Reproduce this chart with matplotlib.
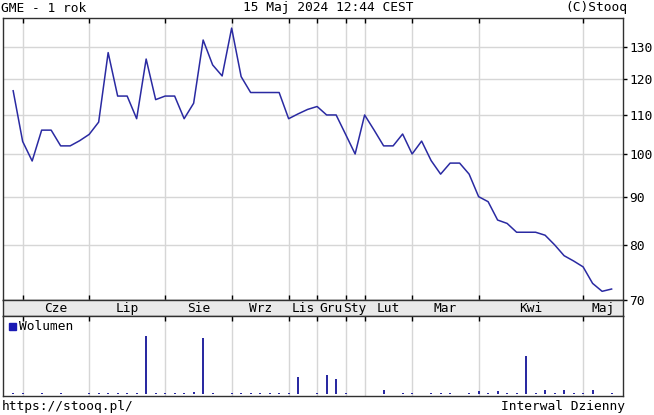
import matplotlib
matplotlib.use('Agg')
import matplotlib.pyplot as plt
from matplotlib.ticker import FixedLocator, NullLocator, FuncFormatter
from matplotlib.patches import Rectangle

# ---- data ----
prices = [116.7, 103.1, 98.3, 106.0, 106.0, 102.0, 102.0, 103.3, 104.9, 108.1,
          128.1, 115.2, 115.2, 109.0, 126.1, 114.2, 115.2, 115.2, 109.0, 113.2,
          132.1, 124.3, 121.0, 136.0, 120.8, 116.2, 116.2, 116.2, 116.2, 109.0,
          110.3, 111.5, 112.3, 110.0, 110.0, 104.9, 100.0, 110.0, 106.0, 102.0,
          102.0, 105.0, 100.0, 103.2, 98.4, 95.2, 97.8, 97.8, 95.2, 90.1,
          89.0, 85.1, 84.4, 82.6, 82.6, 82.6, 82.0, 80.1, 78.0, 77.0,
          75.9, 72.9, 71.5, 71.9]
volumes = [10, 10, 0, 10, 0, 10, 0, 0, 10, 10,
           10, 10, 10, 10, 576, 10, 10, 10, 10, 20,
           557, 10, 0, 15, 10, 10, 10, 10, 10, 15,
           170, 0, 10, 190, 150, 10, 0, 0, 0, 40,
           0, 10, 10, 0, 15, 10, 10, 0, 10, 30,
           10, 30, 10, 10, 376, 10, 40, 10, 40, 10,
           15, 40, 0, 10]
month_labels = ['Cze', 'Lip', 'Sie', 'Wrz', 'Lis', 'Gru', 'Sty', 'Lut', 'Mar', 'Kwi', 'Maj']
month_starts = [1, 8, 16, 23, 29, 32, 35, 37, 42, 49, 60]
price_ticks = [70, 80, 90, 100, 110, 120, 130]

title_left = 'GME - 1 rok'
title_mid = '15 Maj 2024 12:44 CEST'
title_right = '(C)Stooq'
footer_left = 'https://stooq.pl/'
footer_right = 'Interwal Dzienny'
legend_label = 'Wolumen'

# ---- style ----
W, H = 654, 415
MONO = 'DejaVu Sans Mono'
FS = 9.3
LINE_C = '#2a2aa2'
GRID_C = '#d6d6d6'
SPINE_C = '#303030'
XLIM = (-1.07, 64.2)

plt.rcParams['font.family'] = [MONO, 'DejaVu Sans']


def rect(x0, y0, x1, y1):
    return [x0 / W, 1 - y1 / H, (x1 - x0) / W, (y1 - y0) / H]


fig = plt.figure(figsize=(W / 100, H / 100), dpi=100)
fig.patch.set_facecolor('white')

ax = fig.add_axes(rect(3, 18, 623, 300))
band = fig.add_axes(rect(3, 300, 623, 316))
axv = fig.add_axes(rect(3, 316, 623, 396))

# ---- main price panel ----
xs = list(range(len(prices)))
ax.plot(xs, prices, color=LINE_C, lw=1.1, zorder=3)
ax.set_yscale('log')
ax.set_ylim(70, 139.4)
ax.set_xlim(*XLIM)
ax.yaxis.set_major_locator(FixedLocator(price_ticks))
ax.yaxis.set_minor_locator(NullLocator())
ax.yaxis.set_major_formatter(FuncFormatter(lambda v, p: f'{v:.0f}'))
ax.set_xticks(month_starts)
ax.set_xticklabels([])
ax.tick_params(axis='x', which='both', direction='in', top=True, bottom=True,
               length=3.5, width=1, color='black', labelbottom=False)
ax.tick_params(axis='y', which='both', left=False, right=True, labelleft=False,
               labelright=True, direction='out', length=3, width=1,
               color='black', pad=1.5, labelsize=FS)
ax.grid(True, color=GRID_C, lw=1.0, zorder=0)
for s in ax.spines.values():
    s.set_color(SPINE_C)
    s.set_linewidth(1.0)

# ---- month band ----
band.set_xlim(*XLIM)
band.set_ylim(0, 1)
band.set_facecolor('#e9e9e9')
band.set_xticks([])
band.set_yticks([])
for s in band.spines.values():
    s.set_color(SPINE_C)
    s.set_linewidth(1.0)
bounds = month_starts + [XLIM[1]]
for i, lab in enumerate(month_labels):
    c = (bounds[i] + bounds[i + 1]) / 2
    band.text(c, 0.45, lab, ha='center', va='center', fontsize=FS,
              family=MONO, color='black')

# ---- volume panel ----
axv.bar(xs, volumes, width=0.22, color=LINE_C, zorder=3)
axv.set_xlim(*XLIM)
axv.set_ylim(-20, 780)
axv.set_xticks(month_starts)
axv.set_xticklabels([])
axv.set_yticks([])
axv.tick_params(axis='x', direction='in', top=True, bottom=False,
                length=3.5, width=1, color='black', labelbottom=False)
axv.grid(True, axis='x', color=GRID_C, lw=1.0, zorder=0)
for s in axv.spines.values():
    s.set_color(SPINE_C)
    s.set_linewidth(1.0)

# legend marker
fig.add_artist(Rectangle((9 / W, 1 - 330 / H), 7 / W, 7 / H,
                         transform=fig.transFigure, color='#1a1ab4'))
fig.text(19 / W, 1 - 326 / H, legend_label, ha='left', va='center',
         fontsize=FS, family=MONO)

# ---- header / footer ----
fig.text(1 / W, 1 - 8 / H, title_left, ha='left', va='center', fontsize=FS, family=MONO)
fig.text(328 / W, 1 - 8 / H, title_mid, ha='center', va='center', fontsize=FS, family=MONO)
fig.text(627 / W, 1 - 8 / H, title_right, ha='right', va='center', fontsize=FS, family=MONO)
fig.text(2 / W, 1 - 406 / H, footer_left, ha='left', va='center', fontsize=FS, family=MONO)
fig.text(625 / W, 1 - 406 / H, footer_right, ha='right', va='center', fontsize=FS, family=MONO)

fig.savefig('out.png', dpi=100, facecolor='white')
